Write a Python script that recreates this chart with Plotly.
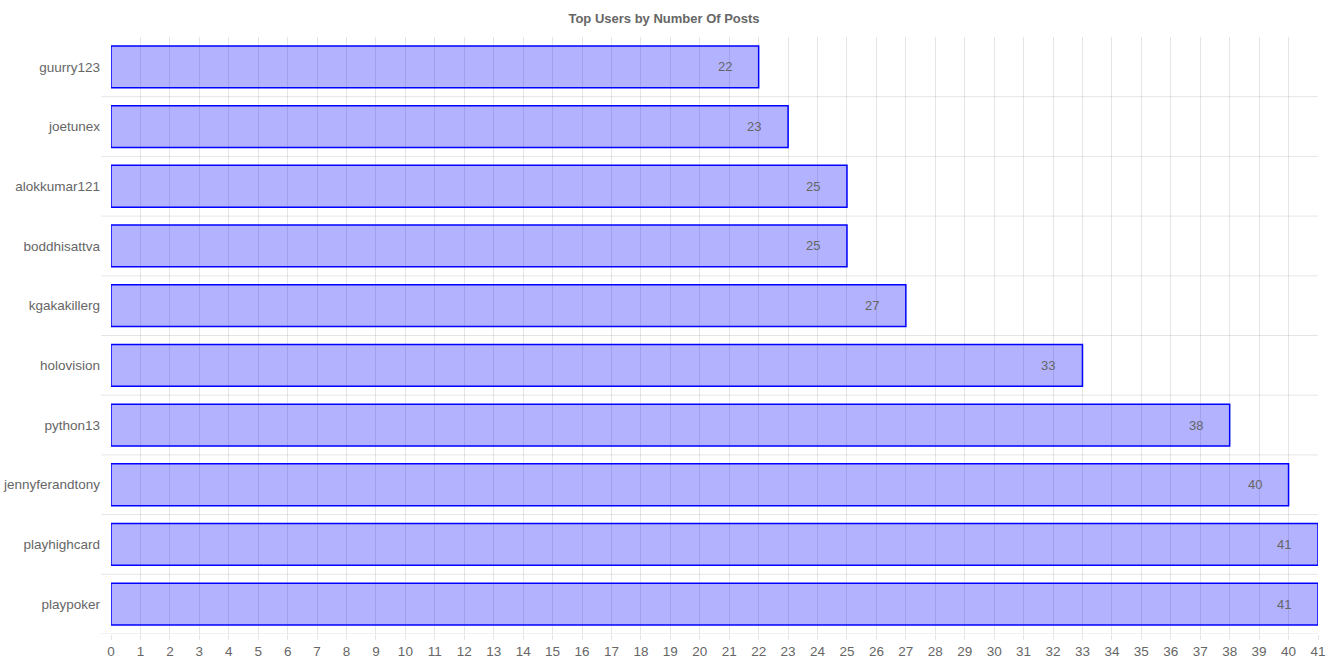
import plotly.graph_objects as go

users = ["guurry123", "joetunex", "alokkumar121", "boddhisattva", "kgakakillerg",
         "holovision", "python13", "jennyferandtony", "playhighcard", "playpoker"]
posts = [22, 23, 25, 25, 27, 33, 38, 40, 41, 41]
x_ticks = list(range(0, 42))

FONT = "Liberation Sans, Arial, sans-serif"
GREY = "#666666"
GRID = "rgba(0,0,0,0.1)"
L, R, T, B = 111, 10, 37, 30
PLOT_W = 1328 - L - R

fig = go.Figure()
fig.add_trace(go.Bar(
    x=posts, y=users, orientation="h",
    marker=dict(color="rgba(0,0,255,0.3)", line=dict(color="rgb(0,0,255)", width=1.5)),
    hoverinfo="x+y",
))

for u, p in zip(users, posts):
    fig.add_annotation(x=p, y=u, text=str(p), showarrow=False, xanchor="right",
                       xshift=-25, font=dict(family=FONT, size=13, color=GREY))

# category boundary grid lines (below each category), with a short tick to the left
for i in range(len(users)):
    fig.add_shape(type="line", xref="paper", yref="y", x0=-10 / PLOT_W, x1=1,
                  y0=i + 0.5, y1=i + 0.5, line=dict(color=GRID, width=1), layer="below")

fig.update_layout(
    width=1328, height=664,
    margin=dict(l=L, r=R, t=T, b=B),
    paper_bgcolor="white", plot_bgcolor="white",
    bargap=0.3,
    showlegend=False,
    font=dict(family=FONT, size=13, color=GREY),
    title=dict(text="<b>Top Users by Number Of Posts</b>", x=0.5, xanchor="center",
               y=1 - 18 / 664, yanchor="middle", font=dict(family=FONT, size=13, color=GREY)),
    xaxis=dict(range=[0, 41], tickmode="array", tickvals=x_ticks, ticktext=[str(v) for v in x_ticks],
               showgrid=True, gridcolor=GRID, gridwidth=1, zeroline=False, automargin=False,
               ticks="outside", ticklen=5, tickcolor=GRID, showline=False,
               tickfont=dict(family=FONT, size=13.5, color=GREY)),
    yaxis=dict(type="category", categoryorder="array", categoryarray=users,
               range=[len(users) - 0.5, -0.5],
               showgrid=False, ticks="", showline=False, zeroline=False, automargin=False,
               ticklabelstandoff=10,
               tickfont=dict(family=FONT, size=13.5, color=GREY)),
)

fig.write_html("out.html")
